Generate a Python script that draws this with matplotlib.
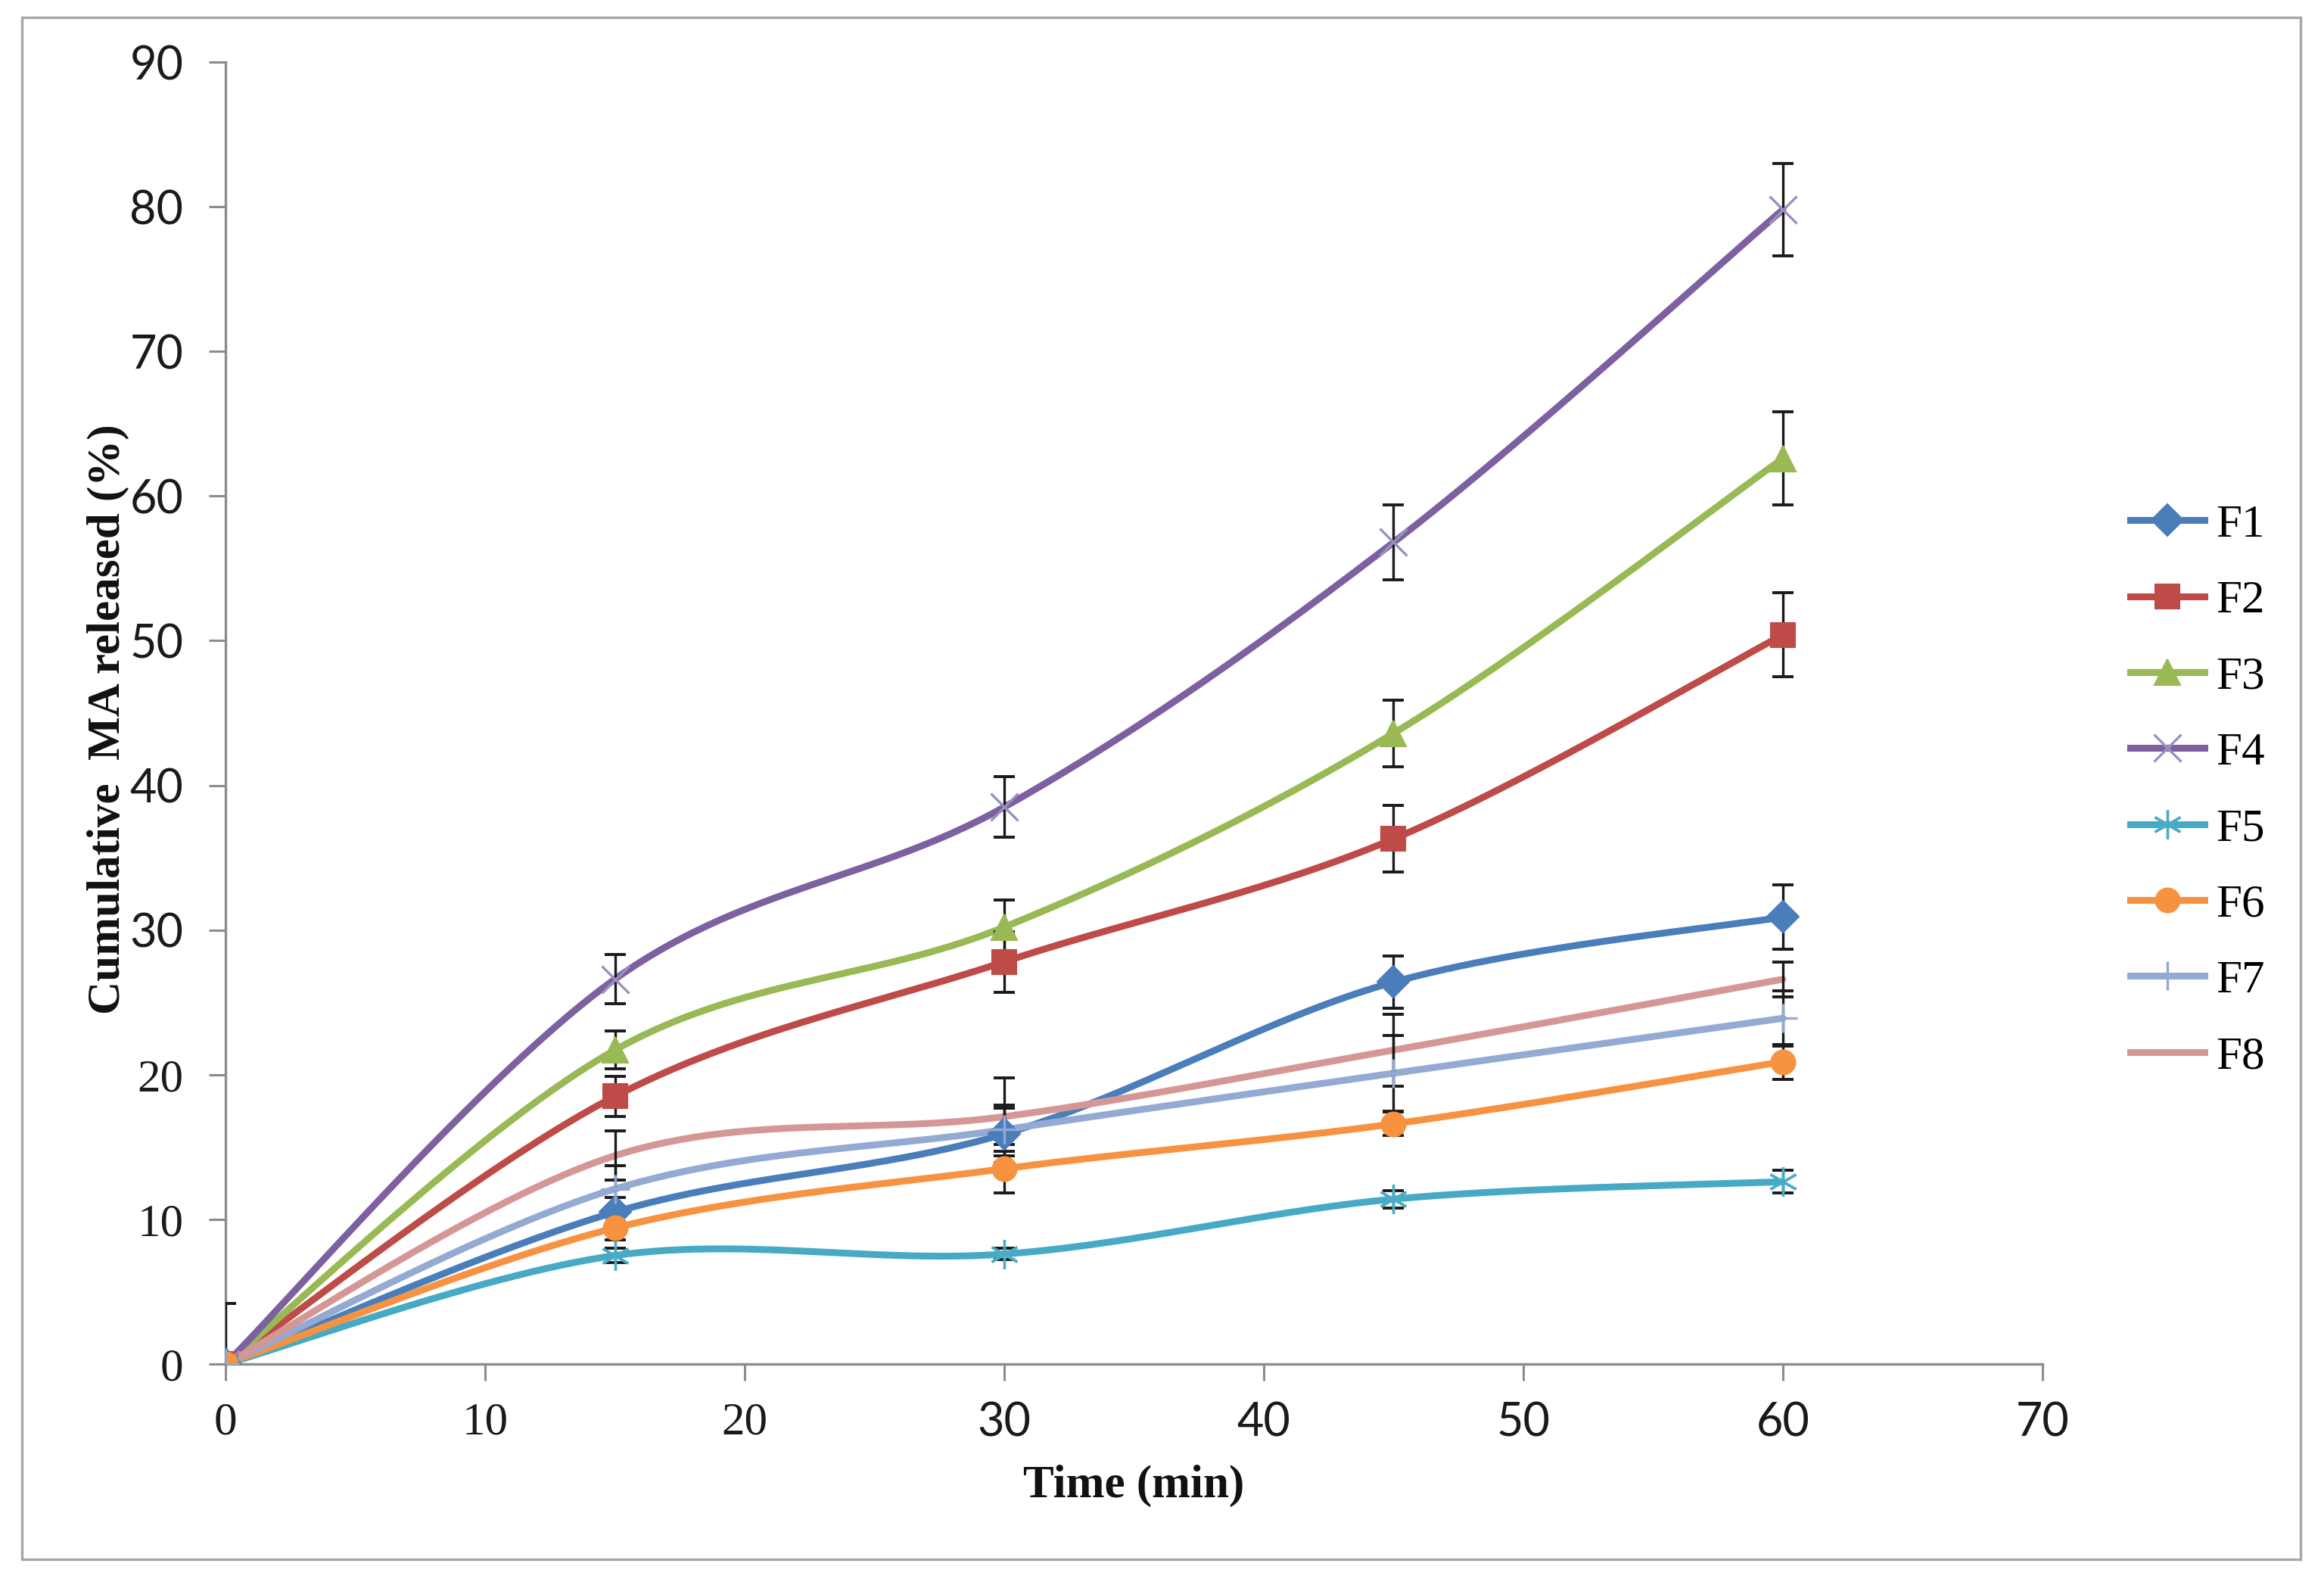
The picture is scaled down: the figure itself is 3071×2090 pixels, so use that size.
import numpy as np
import matplotlib
matplotlib.use("Agg")
import matplotlib.pyplot as plt
from matplotlib.lines import Line2D
from matplotlib.patches import Rectangle

# ---------------- data ----------------
time_min = [0, 15, 30, 45, 60]
series_names = ["F1", "F2", "F3", "F4", "F5", "F6", "F7", "F8"]
F1 = [0, 10.5, 15.9, 26.4, 30.9]
F2 = [0, 18.5, 27.8, 36.3, 50.4]
F3 = [0, 21.7, 30.2, 43.6, 62.6]
F4 = [0, 26.6, 38.5, 56.8, 79.8]
F5 = [0, 7.5, 7.6, 11.4, 12.6]
F6 = [0, 9.4, 13.5, 16.6, 20.9]
F7 = [0, 12.1, 16.2, 20.1, 23.9]
F8 = [0, 14.4, 17.1, 21.7, 26.6]
F1_err = [4.2, 1.0, 2.0, 1.8, 2.2]
F2_err = [0, 1.4, 2.1, 2.3, 2.9]
F3_err = [0, 1.3, 1.9, 2.3, 3.2]
F4_err = [0, 1.7, 2.1, 2.6, 3.2]
F5_err = [0, 0.5, 0.4, 0.6, 0.8]
F6_err = [0, 0.8, 1.7, 0.8, 1.2]
F7_err = [0, 1.6, 1.5, 2.6, 1.9]
F8_err = [0, 1.7, 2.7, 2.5, 1.2]
x_ticks = [0, 10, 20, 30, 40, 50, 60, 70]
y_ticks = [0, 10, 20, 30, 40, 50, 60, 70, 80, 90]

values = [F1, F2, F3, F4, F5, F6, F7, F8]
errors = [F1_err, F2_err, F3_err, F4_err, F5_err, F6_err, F7_err, F8_err]

# ---------------- styles ----------------
line_colors = ["#4A7EBB", "#BE4B48", "#98B954", "#7D60A0",
               "#46AAC5", "#F69240", "#94AAD3", "#D59795"]
marker_colors = ["#4A7EBB", "#BE4B48", "#98B954", "#9A90BD",
                 "#4BACC6", "#F69240", "#94AAD3", "#D59795"]
markers = ["D", "s", "^", "x", (6, 2, 0), "o", "+", None]
msizes = [21, 23, 24, 26, 28, 23, 28, 0]

W, H = 3071, 2090
fig = plt.figure(figsize=(W / 100, H / 100), dpi=100)
fig.patch.set_facecolor("white")

# outer frame
fig.patches.append(Rectangle((29 / W, 1 - 2060 / H), (3040 - 29) / W, (2060 - 23) / H,
                             transform=fig.transFigure, fill=False,
                             edgecolor="#A6A6A6", linewidth=2.4, zorder=0))

ax = fig.add_axes([298 / W, 1 - 1802 / H, (2699 - 298) / W, (1802 - 82) / H])
ax.set_xlim(0, 70)
ax.set_ylim(0, 90)


def smooth(xs, ys, n=60):
    """Excel-like smoothed line through the points (cardinal Bezier)."""
    P = np.column_stack([xs, ys]).astype(float)
    m = len(P)
    out = []
    for i in range(m - 1):
        p0 = P[i - 1] if i > 0 else P[i]
        p1 = P[i]
        p2 = P[i + 1]
        p3 = P[i + 2] if i + 2 < m else P[i + 1]
        c1 = p1 + (p2 - p0) / 6.0
        c2 = p2 - (p3 - p1) / 6.0
        t = np.linspace(0, 1, n)[:, None]
        seg = ((1 - t) ** 3) * p1 + 3 * ((1 - t) ** 2) * t * c1 + 3 * (1 - t) * t ** 2 * c2 + t ** 3 * p2
        out.append(seg if i == 0 else seg[1:])
    S = np.vstack(out)
    return S[:, 0], S[:, 1]


LW = 6.5
handles = []
for k, (name, yv, ev) in enumerate(zip(series_names, values, errors)):
    sx, sy = smooth(time_min, yv)
    ax.plot(sx, sy, color=line_colors[k], lw=LW, solid_capstyle="round", zorder=3 + k * 0.1)
    ax.errorbar(time_min, yv, yerr=ev, fmt="none", ecolor="#1a1a1a",
                elinewidth=2.4, capsize=10, capthick=2.8, zorder=4)
    filled = markers[k] in ("D", "s", "^", "o")
    if markers[k] is not None:
        ax.plot(time_min, yv, linestyle="none", marker=markers[k], markersize=msizes[k],
                markerfacecolor=marker_colors[k] if filled else "none",
                markeredgecolor=marker_colors[k],
                markeredgewidth=1.5 if filled else 2.4, zorder=5)
    handles.append(Line2D([0], [0], color=line_colors[k], lw=LW,
                          marker=markers[k] if markers[k] is not None else None,
                          markersize=msizes[k] if markers[k] is not None else 0,
                          markerfacecolor=marker_colors[k],
                          markeredgecolor=marker_colors[k],
                          markeredgewidth=1.5 if filled else 2.4))

# axes styling
for side in ("top", "right"):
    ax.spines[side].set_visible(False)
for side in ("left", "bottom"):
    ax.spines[side].set_color("#8C8C8C")
    ax.spines[side].set_linewidth(2.4)
    ax.spines[side].set_zorder(1)

ax.set_xticks(x_ticks)
ax.set_yticks(y_ticks)
ax.tick_params(axis="both", direction="out", length=16, width=2.2, color="#8C8C8C",
               labelcolor="#1a1a1a", labelsize=44)
ax.tick_params(axis="y", pad=24)
ax.tick_params(axis="x", pad=20)
ax.set_xticklabels([str(v) for v in x_ticks])
ax.set_yticklabels([str(v) for v in y_ticks])
for lab, v in zip(ax.get_xticklabels(), x_ticks):
    lab.set_family("Liberation Serif" if v <= 20 else "Lato")
for lab, v in zip(ax.get_yticklabels(), y_ticks):
    lab.set_family("Liberation Serif" if v <= 20 else "Lato")

fig.text(1498 / W, 1 - 1963 / H, "Time (min)", ha="center", va="center",
         fontsize=44, fontweight="bold", family="Liberation Serif", color="#111111")
fig.text(143 / W, 1 - 950 / H, "Cumulative  MA released (%)", ha="center", va="center",
         rotation=90, fontsize=44, fontweight="bold", family="Liberation Serif",
         color="#111111")

leg = fig.legend(handles, series_names, loc="center left",
                 bbox_to_anchor=(2760 / W, 1 - 1045 / H), frameon=False,
                 prop={"family": "Liberation Serif", "size": 44},
                 handlelength=1.6, handletextpad=0.25, labelspacing=0.73,
                 borderpad=0.4, numpoints=1)

fig.savefig("out.png", dpi=100, facecolor="white")
